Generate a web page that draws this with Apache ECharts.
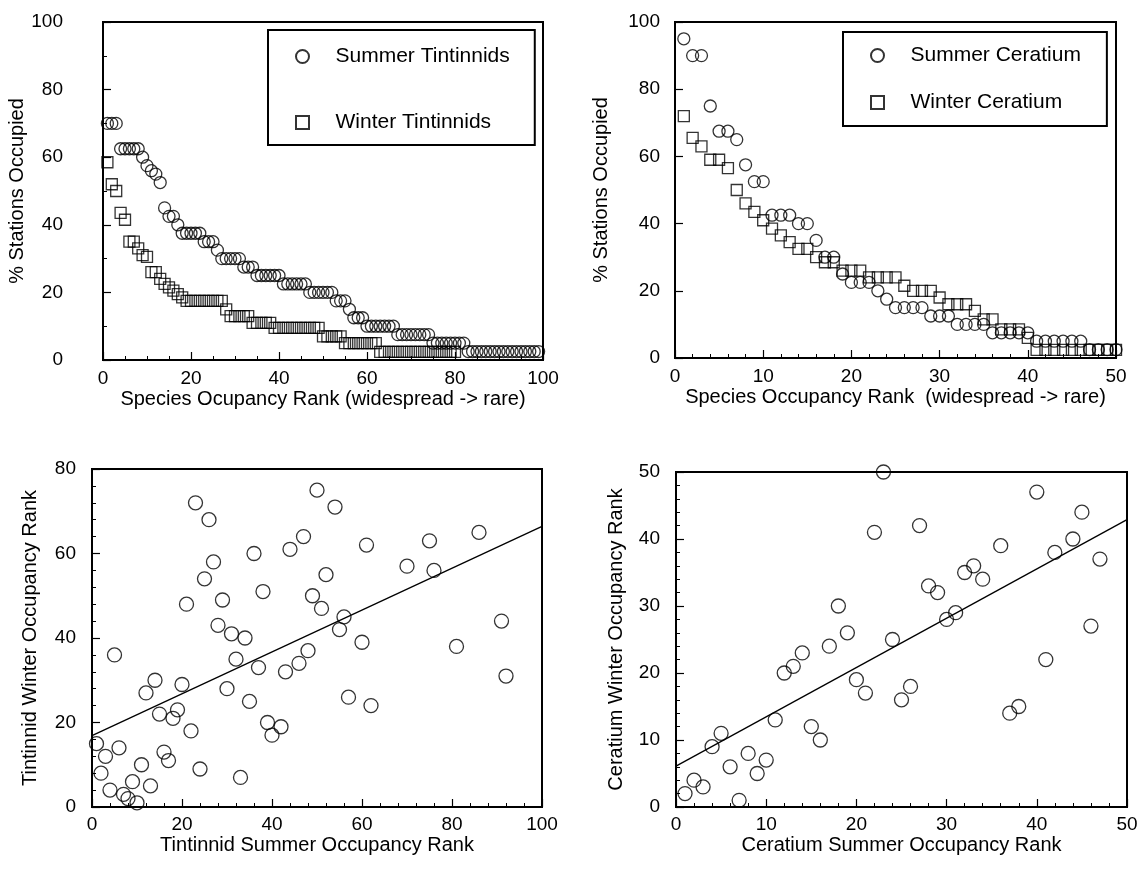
<!DOCTYPE html>
<html>
	<head>
		<meta charset="UTF-8">
		<title>Occupancy ranks</title>
		<script src="https://cdn.jsdelivr.net/npm/echarts@6.0.0/dist/echarts.min.js"></script>
		<style>
			html, body {
				margin: 0;
				padding: 0;
				background: #fff;
			}
			#chart {
				width: 1142px;
				height: 881px;
			}
		</style>
	</head>
	<body>
		<div id="chart"></div>
		<script>
			// % stations occupied, in rank order (rank = position + 1)
			var summerTin = [70, 70, 70, 62.5, 62.5, 62.5, 62.5, 62.5, 60, 57.5, 56, 55, 52.5,
				45, 42.5, 42.5, 40, 37.5, 37.5, 37.5, 37.5, 37.5, 35, 35, 35, 32.5,
				30, 30, 30, 30, 30, 27.5, 27.5, 27.5, 25, 25, 25, 25, 25, 25,
				22.5, 22.5, 22.5, 22.5, 22.5, 22.5, 20, 20, 20, 20, 20, 20,
				17.5, 17.5, 17.5, 15, 12.5, 12.5, 12.5, 10, 10, 10, 10, 10, 10, 10,
				7.5, 7.5, 7.5, 7.5, 7.5, 7.5, 7.5, 7.5, 5, 5, 5, 5, 5, 5, 5, 5,
				2.5, 2.5, 2.5, 2.5, 2.5, 2.5, 2.5, 2.5, 2.5, 2.5, 2.5, 2.5, 2.5, 2.5, 2.5, 2.5, 2.5];
			var winterTin = [58.5, 52, 50, 43.5, 41.5, 35, 35, 33, 31, 30.5, 26, 26, 24, 22.5, 21.5, 20.5, 19.5, 18.5,
				17.5, 17.5, 17.5, 17.5, 17.5, 17.5, 17.5, 17.5, 17.5, 15,
				13, 13, 13, 13, 13, 11, 11, 11, 11, 11,
				9.5, 9.5, 9.5, 9.5, 9.5, 9.5, 9.5, 9.5, 9.5, 9.5, 9.5, 7, 7, 7, 7, 7,
				5, 5, 5, 5, 5, 5, 5, 5,
				2.4, 2.4, 2.4, 2.4, 2.4, 2.4, 2.4, 2.4, 2.4, 2.4, 2.4, 2.4, 2.4, 2.4, 2.4, 2.4, 2.4, 2.4];
			var summerCer = [95, 90, 90, 75, 67.5, 67.5, 65, 57.5, 52.5, 52.5, 42.5, 42.5, 42.5, 40, 40,
				35, 30, 30, 25, 22.5, 22.5, 22.5, 20, 17.5, 15, 15, 15, 15, 12.5, 12.5, 12.5,
				10, 10, 10, 10, 7.5, 7.5, 7.5, 7.5, 7.5, 5, 5, 5, 5, 5, 5, 2.5, 2.5, 2.5, 2.5];
			var winterCer = [72, 65.5, 63, 59, 59, 56.5, 50, 46, 43.5, 41, 38.5, 36.5, 34.5, 32.5, 32.5,
				30, 28.5, 28.5, 26, 26, 26, 24, 24, 24, 24, 21.5, 20, 20, 20, 18, 16, 16, 16, 14,
				11.5, 11.5, 8.5, 8.5, 8.5, 6, 2.4, 2.4, 2.4, 2.4, 2.4, 2.4, 2.4, 2.4, 2.4, 2.4];

			// [summer rank, winter rank]
			var tinRanks = [[23, 72], [26, 68], [50, 75], [47, 64], [44, 61], [36, 60], [27, 58], [25, 54], [38, 51],
				[49, 50], [21, 48], [29, 49], [28, 43], [31, 41], [34, 40], [5, 36], [32, 35], [48, 37], [46, 34],
				[37, 33], [43, 32], [14, 30], [20, 29], [12, 27], [30, 28], [35, 25], [19, 23], [15, 22], [18, 21],
				[39, 20], [42, 19], [40, 17], [22, 18], [1, 15], [6, 14], [3, 12], [16, 13], [17, 11], [2, 8],
				[11, 10], [24, 9], [33, 7], [9, 6], [13, 5], [4, 4], [7, 3], [8, 2], [10, 1],
				[54, 71], [61, 62], [75, 63], [86, 65], [70, 57], [76, 56], [52, 55], [51, 47], [56, 45], [55, 42],
				[60, 39], [91, 44], [81, 38], [92, 31], [57, 26], [62, 24]];
			var cerRanks = [[23, 50], [22, 41], [18, 30], [19, 26], [24, 25], [17, 24], [14, 23], [13, 21], [12, 20],
				[20, 19], [21, 17], [25, 16], [11, 13], [15, 12], [16, 10], [5, 11], [4, 9], [8, 8], [10, 7], [6, 6],
				[9, 5], [2, 4], [3, 3], [1, 2], [7, 1],
				[40, 47], [45, 44], [27, 42], [44, 40], [42, 38], [36, 39], [47, 37], [33, 36], [32, 35], [34, 34],
				[28, 33], [29, 32], [31, 29], [30, 28], [46, 27], [41, 22], [26, 18], [38, 15], [37, 14]];

			// regression line ends
			var tinFitX = [0, 100];
			var tinFitY = [16.9, 66.4];
			var cerFitX = [0, 50];
			var cerFitY = [6.1, 42.9];

			var FONT = '"Liberation Sans", Arial, Helvetica, sans-serif';
			// square that keeps its aspect in the legend (plain 'rect' gets stretched)
			var SQUARE = 'path://M0 0H10V10H0Z';

			function byRank(vals) {
				var out = [];
				for (var i = 0; i < vals.length; i++) {
					out.push([i + 1, vals[i]]);
				}
				return out;
			}

			function pairs(xs, ys) {
				var out = [];
				for (var i = 0; i < xs.length; i++) {
					out.push([xs[i], ys[i]]);
				}
				return out;
			}

			function axis(grid, max, interval, minor, name, labelMargin, nameGap) {
				return {
					gridIndex: grid,
					type: 'value',
					min: 0,
					max: max,
					interval: interval,
					name: name,
					nameLocation: 'middle',
					nameGap: nameGap,
					nameTextStyle: { color: '#000', fontSize: 20, fontFamily: FONT },
					axisLine: { show: false },
					axisTick: { show: true, inside: true, length: 8, lineStyle: { color: '#000', width: 1.2 } },
					minorTick: { show: minor > 0, splitNumber: minor || 1, length: 4, lineStyle: { color: '#000', width: 1 } },
					axisLabel: { color: '#000', fontSize: 19, fontFamily: FONT, margin: labelMargin },
					splitLine: { show: false },
					minorSplitLine: { show: false }
				};
			}

			function box(left, top, width, height) {
				return { show: true, borderColor: '#000', borderWidth: 2, backgroundColor: '#fff',
					left: left, top: top, width: width, height: height };
			}

			var hollow = { color: 'rgba(0,0,0,0)', borderColor: '#000', borderWidth: 1.3 };

			function legendBox(names, left, top, gap, pad) {
				return {
					data: [{ name: names[0], icon: 'circle' }, { name: names[1], icon: SQUARE }],
					orient: 'vertical',
					left: left,
					top: top,
					itemWidth: 56,
					itemHeight: 13,
					itemGap: gap,
					padding: pad,
					symbolKeepAspect: true,
					borderColor: '#000',
					borderWidth: 2,
					selectedMode: false,
					textStyle: { color: '#000', fontSize: 21, fontFamily: FONT }
				};
			}

			var chart = echarts.init(document.getElementById('chart'), null, { renderer: 'canvas' });
			var option = {
				backgroundColor: '#fff',
				animation: false,
				grid: [
					box(103, 22, 440, 338),
					box(675, 22, 441, 336),
					box(92, 469, 450, 338),
					box(676, 472, 451, 335)
				],
				legend: [
					legendBox(['Summer Tintinnids', 'Winter Tintinnids'], 268, 30, 45, [16, 25, 12, 27]),
					legendBox(['Summer Ceratium', 'Winter Ceratium'], 843, 32, 26, [13, 26, 13, 27])
				],
				xAxis: [
					axis(0, 100, 20, 4, 'Species Ocupancy Rank (widespread -> rare)', 9, 29),
					axis(1, 50, 10, 5, 'Species Occupancy Rank  (widespread -> rare)', 9, 29),
					axis(2, 100, 20, 5, 'Tintinnid Summer Occupancy Rank', 8, 28),
					axis(3, 50, 10, 5, 'Ceratium Summer Occupancy Rank', 8, 28)
				],
				yAxis: [
					axis(0, 100, 20, 2, '% Stations Occupied', 40, 62),
					axis(1, 100, 20, 0, '% Stations Occupied', 15, 64),
					axis(2, 80, 20, 5, 'Tintinnid Winter Occupancy Rank', 16, 52),
					axis(3, 50, 10, 5, 'Ceratium Winter Occupancy Rank', 16, 50)
				],
				series: [
					{ name: 'Summer Tintinnids', type: 'scatter', xAxisIndex: 0, yAxisIndex: 0, symbol: 'circle', symbolSize: 12, clip: false, itemStyle: hollow, data: byRank(summerTin) },
					{ name: 'Winter Tintinnids', type: 'scatter', xAxisIndex: 0, yAxisIndex: 0, symbol: 'rect', symbolSize: 11, clip: false, itemStyle: hollow, data: byRank(winterTin) },
					{ name: 'Summer Ceratium', type: 'scatter', xAxisIndex: 1, yAxisIndex: 1, symbol: 'circle', symbolSize: 12, clip: false, itemStyle: hollow, data: byRank(summerCer) },
					{ name: 'Winter Ceratium', type: 'scatter', xAxisIndex: 1, yAxisIndex: 1, symbol: 'rect', symbolSize: 11, clip: false, itemStyle: hollow, data: byRank(winterCer) },
					{ name: 'Tintinnid ranks', type: 'scatter', xAxisIndex: 2, yAxisIndex: 2, symbol: 'circle', symbolSize: 14, clip: false, itemStyle: hollow, data: tinRanks },
					{ name: 'Tintinnid fit', type: 'line', xAxisIndex: 2, yAxisIndex: 2, showSymbol: false, lineStyle: { color: '#000', width: 1.3 }, data: pairs(tinFitX, tinFitY) },
					{ name: 'Ceratium ranks', type: 'scatter', xAxisIndex: 3, yAxisIndex: 3, symbol: 'circle', symbolSize: 14, clip: false, itemStyle: hollow, data: cerRanks },
					{ name: 'Ceratium fit', type: 'line', xAxisIndex: 3, yAxisIndex: 3, showSymbol: false, lineStyle: { color: '#000', width: 1.3 }, data: pairs(cerFitX, cerFitY) }
				]
			};
			chart.setOption(option);
		</script>
	</body>
</html>
